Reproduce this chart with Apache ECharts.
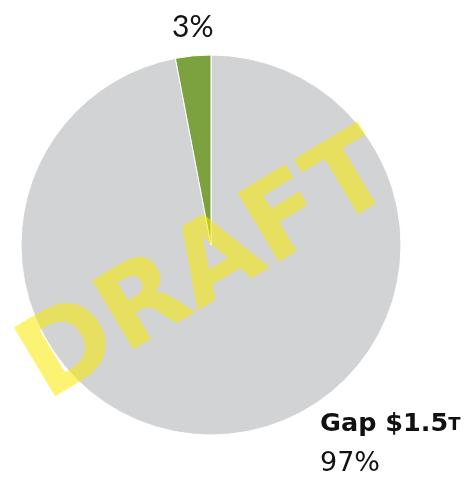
<!DOCTYPE html>
<html>
<head>
<meta charset="utf-8">
<script src="https://cdn.jsdelivr.net/npm/echarts@6/dist/echarts.min.js"></script>
<style>
  html, body { margin: 0; padding: 0; background: #fff; }
  #chart { width: 466px; height: 480px; }
</style>
</head>
<body>
<div id="chart"></div>
<script>
// shares of the total, in percent
const names = ["Gap", "Funded"]
const shares = [97, 3]
const colors = ["#d1d3d4", "#7ba23f"]
const gapAmount = "$1.5"
const gapUnit = "T"

const chart = echarts.init(document.getElementById("chart"))

const option = {
  animation: false,
  series: [
    {
      type: "pie",
      center: [211, 245],
      radius: [0, 190],
      startAngle: 90,
      clockwise: true,
      label: { show: false },
      labelLine: { show: false },
      itemStyle: { borderColor: "#fff", borderWidth: 1 },
      data: names.map((n, i) => ({ name: n, value: shares[i], itemStyle: { color: colors[i] } })),
    },
  ],
  graphic: [
    {
      type: "text",
      x: 172,
      y: 27,
      style: {
        text: shares[1] + "%",
        font: "30px Lato",
        fill: "#111",
        verticalAlign: "middle",
      },
    },
    {
      type: "text",
      x: 320,
      y: 424,
      style: {
        text: "{b|" + names[0] + " " + gapAmount + "}{s|" + gapUnit + "}",
        verticalAlign: "middle",
        rich: {
          b: { font: "bold 25.5px 'DejaVu Sans'", fill: "#111" },
          s: { font: "bold 18px 'DejaVu Sans'", fill: "#111", padding: [3, 0, 0, 0] },
        },
      },
    },
    {
      type: "text",
      x: 320,
      y: 464,
      style: {
        text: shares[0] + "%",
        font: "27px 'DejaVu Sans'",
        fill: "#111",
        verticalAlign: "middle",
      },
    },
    {
      type: "text",
      x: 208,
      y: 271,
      rotation: 31 * Math.PI / 180,
      z: 100,
      style: {
        text: "DRAFT",
        font: "bold 110px 'DejaVu Sans'",
        fill: "rgba(250, 234, 0, 0.55)",
        align: "center",
        verticalAlign: "middle",
      },
    },
  ],
}

chart.setOption(option)
</script>
</body>
</html>
